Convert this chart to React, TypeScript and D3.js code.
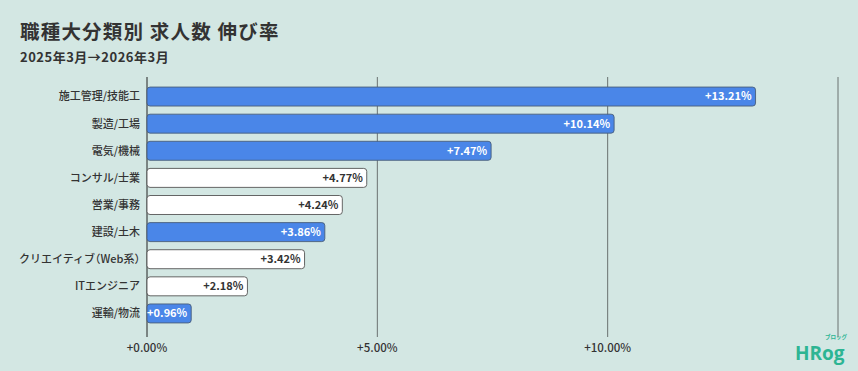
import React from "react";
import * as d3 from "d3";

const categories = [
  "施工管理/技能工",
  "製造/工場",
  "電気/機械",
  "コンサル/士業",
  "営業/事務",
  "建設/土木",
  "クリエイティブ（Web系）",
  "ITエンジニア",
  "運輸/物流",
];
const values = [13.21, 10.14, 7.47, 4.77, 4.24, 3.86, 3.42, 2.18, 0.96];
const highlighted = [true, true, true, false, false, true, false, false, true];
const tickValues = [0, 5, 10, 15];
const tickLabels = ["+0.00%", "+5.00%", "+10.00%", ""];

const W = 858;
const H = 371;
const FONT = "'Noto Sans CJK JP', 'Noto Sans', sans-serif";

export default function App() {
  const x = d3.scaleLinear().domain([0, 15]).range([147, 838]);
  const y = d3
    .scaleBand<string>()
    .domain(categories)
    .range([83, 327])
    .paddingInner(0.3)
    .paddingOuter(0.15);
  const bw = y.bandwidth();

  return (
    <svg
      width={W}
      height={H}
      style={{ position: "absolute", left: 0, top: 0, display: "block" }}
      fontFamily={FONT}
    >
      <rect width={W} height={H} fill="#d3e7e3" />
      <text x={20} y={39} fontSize={19.5} fontWeight={700} fill="#333" letterSpacing={1.2}>
        職種大分類別 求人数 伸び率
      </text>
      <text x={20} y={62} fontSize={13} fontWeight={700} fill="#333" letterSpacing={0.5}>
        2025年3月→2026年3月
      </text>

      {tickValues.map((t, i) => (
        <g key={t}>
          <line
            x1={x(t)}
            x2={x(t)}
            y1={77}
            y2={337}
            stroke={t === 0 ? "#222" : "#6a7270"}
            strokeWidth={1}
          />
          <text
            x={x(t)}
            y={352}
            textAnchor="middle"
            fontSize={11.5}
            fontWeight={500}
            fill="#333"
          >
            {tickLabels[i]}
          </text>
        </g>
      ))}

      {categories.map((c, i) => {
        const y0 = y(c)!;
        const hl = highlighted[i];
        const x1 = x(values[i]);
        return (
          <g key={c}>
            <text
              x={140}
              y={y0 + bw / 2}
              dy="0.35em"
              textAnchor="end"
              fontSize={11}
              fontWeight={500}
              fill="#333"
              style={c.includes("（") ? { fontFeatureSettings: "'halt'" } : undefined}
            >
              {c}
            </text>
            <rect
              x={x(0)}
              y={y0}
              width={x1 - x(0)}
              height={bw}
              rx={3}
              fill={hl ? "#4a86e8" : "#ffffff"}
              stroke={hl ? "#4a5f7a" : "#555"}
              strokeWidth={0.9}
            />
            <text
              x={x1 - 4}
              y={y0 + bw / 2}
              dy="0.35em"
              textAnchor="end"
              fontSize={11}
              fontWeight={700}
              fill={hl ? "#ffffff" : "#333"}
            >
              {"+" + values[i].toFixed(2) + "%"}
            </text>
          </g>
        );
      })}

      <g>
        <text
          x={795}
          y={360}
          fontSize={19}
          fontWeight={700}
          fill="#2db593"
          fontFamily="'Open Sans', 'Noto Sans', sans-serif"
        >
          HRog
        </text>
        <text x={825} y={339} fontSize={5.5} fontWeight={700} fill="#2db593">
          ブロッグ
        </text>
      </g>
    </svg>
  );
}
